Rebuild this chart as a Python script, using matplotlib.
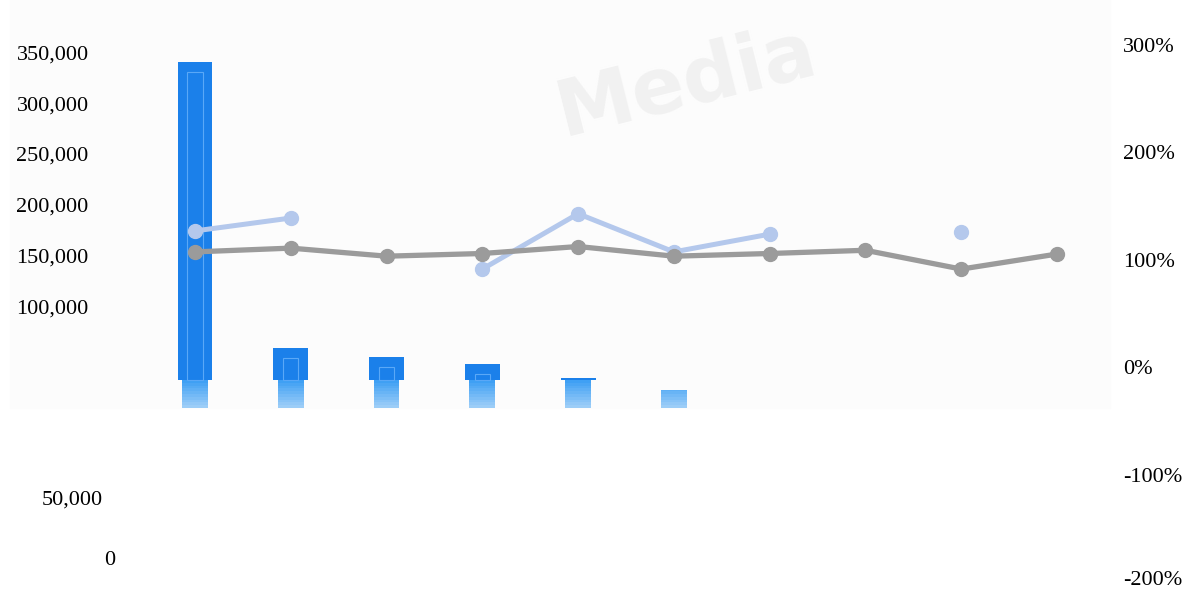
import numpy as np
import matplotlib
matplotlib.use('Agg')
import matplotlib.pyplot as plt
from matplotlib import transforms
from matplotlib.patches import Rectangle

# data
categories = list(range(10))
bar_values = [340500, 59000, 50200, 43300, 30000, 18000, 0, 0, 0, 0]
gray_pct = [103.5, 107, 99.5, 102, 108.5, 99.5, 102, 105, 87.5, 101.5]
blue_pct = [123, 135, np.nan, 87.5, 139, 103.5, 120, np.nan, 122, np.nan]

left_ticks = [100000, 150000, 200000, 250000, 300000, 350000]
right_ticks = [-200, -100, 0, 100, 200, 300]

plt.rcParams['font.family'] = ['Liberation Serif', 'DejaVu Serif']

fig = plt.figure(figsize=(11.84, 5.9), dpi=100)
fig.patch.set_facecolor('white')

# faint grey band behind the plot area
fig.patches.append(Rectangle((10 / 1184, 1 - 408 / 590), 1100 / 1184, 408 / 590,
                             transform=fig.transFigure, color='#fcfcfc', zorder=-5))
fig.text(0.58, 0.86, 'Media', fontsize=56, color='#f1f1f1', fontweight='bold',
         family='DejaVu Sans', rotation=14, ha='center', va='center', zorder=-4)

ax = fig.add_axes([140 / 1184, 0, 950 / 1184, 1])
ax.set_zorder(2)
ax.patch.set_alpha(0)
ax.set_xlim(-0.574, 9.344)
ax.set_ylim(-179100, 401600)

base = 27500
x = np.array(categories)
vals = np.array(bar_values, dtype=float)

# solid part of the bars
m = vals > base
ax.bar(x[m], vals[m] - base, bottom=base, width=0.365, color='#1b80ea',
       linewidth=0, zorder=3)
# thin inner outline
mi = vals > base + 12000
ax.bar(x[mi], vals[mi] - base - 10000, bottom=base, width=0.16, fill=False,
       edgecolor='#5aa8f7', linewidth=0.8, zorder=4)

# faded reflection under the bars
n = 10
mf = vals > 0
for k in range(n):
    top = base * (1 - k / n)
    bot = base * (1 - (k + 1) / n)
    h = np.clip(np.minimum(vals[mf], top) - bot, 0, None)
    ax.bar(x[mf], h, bottom=bot, width=0.27, color='#3fa0f4',
           alpha=1.0 - 0.055 * k, linewidth=0, zorder=2)

ax.set_yticks(left_ticks)
ax.set_yticklabels(['{:,}'.format(v) for v in left_ticks])
ax.tick_params(axis='y', length=0, pad=37, labelsize=16)
ax.set_xticks([])
for s in ax.spines.values():
    s.set_visible(False)

# the two stray labels at the lower left
trans = transforms.blended_transform_factory(ax.transAxes, ax.transData)
ax.text(-0.039, -90550, '50,000', transform=trans, ha='right', va='center', fontsize=16)
ax.text(-0.0263, -149600, '0', transform=trans, ha='right', va='center', fontsize=16)

ax2 = ax.twinx()
ax2.set_zorder(3)
ax2.patch.set_alpha(0)
ax2.set_ylim(-211, 337.8)
ax2.plot(x, blue_pct, color='#b4c8ec', linewidth=3.6, marker='o', markersize=10,
         solid_capstyle='round', zorder=5)
ax2.plot(x, gray_pct, color='#9b9b9b', linewidth=3.8, marker='o', markersize=10,
         solid_capstyle='round', zorder=6)
ax2.set_yticks(right_ticks)
ax2.set_yticklabels(['{}%'.format(v) for v in right_ticks])
ax2.tick_params(axis='y', length=0, pad=24, labelsize=16)
shift = transforms.ScaledTranslation(0, -4 / 100, fig.dpi_scale_trans)
for lab in ax2.get_yticklabels()[1:]:
    lab.set_transform(lab.get_transform() + shift)
for s in ax2.spines.values():
    s.set_visible(False)

fig.savefig('out.png', dpi=100, facecolor='white')
